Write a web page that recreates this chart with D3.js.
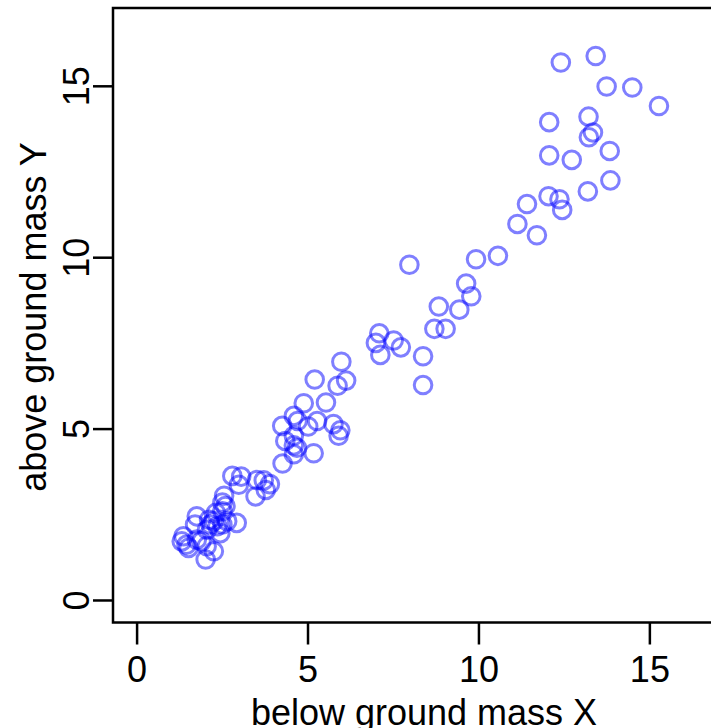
<!DOCTYPE html>
<html>
<head>
<meta charset="utf-8">
<script src="https://cdn.jsdelivr.net/npm/d3@7/dist/d3.min.js"></script>
<style>
  html, body { margin: 0; padding: 0; background: #fff; }
  svg { display: block; }
  text { font-family: "Liberation Sans", Arial, Helvetica, sans-serif; fill: #000; }
</style>
</head>
<body>
<svg id="chart" width="711" height="728"></svg>
<script>
// ---- data ----
const xValues = [
  12.41, 13.43, 13.75, 14.50, 15.28, 12.07, 13.22, 13.35, 13.23, 13.84,
  12.07, 12.73, 13.86, 13.20, 12.05, 12.37, 12.45, 11.42, 11.14, 11.71,
  7.98, 9.93, 10.57, 9.64, 9.79, 8.84, 9.44, 8.71, 9.04, 7.10,
  7.00, 7.52, 7.73, 7.13, 8.38, 8.38,
  5.99, 5.21, 5.88, 6.13, 4.89, 5.54, 4.60, 4.26, 4.71, 5.02,
  5.28, 5.76, 5.96, 5.91, 4.35, 4.60, 4.60, 4.69, 4.60, 5.18, 4.27,
  2.80, 3.06, 3.52, 3.72, 3.90, 3.48, 3.78, 2.99,
  2.56, 2.51, 2.60, 2.51, 2.32, 2.93, 2.12, 2.26, 2.51, 2.65,
  1.76, 1.71, 1.37, 1.32, 1.46, 1.76, 1.90, 2.05, 1.52, 2.02,
  2.26, 2.16, 2.36, 2.06, 2.45
];
const yValues = [
  15.68, 15.87, 14.98, 14.95, 14.41, 13.94, 14.10, 13.64, 13.50, 13.10,
  12.97, 12.84, 12.24, 11.92, 11.78, 11.69, 11.38, 11.55, 10.97, 10.64,
  9.78, 9.94, 10.04, 9.23, 8.86, 8.56, 8.47, 7.91, 7.91, 7.78,
  7.50, 7.57, 7.37, 7.15, 7.11, 6.27,
  6.95, 6.43, 6.25, 6.40, 5.74, 5.76, 5.37, 5.08, 5.22, 5.06,
  5.22, 5.13, 4.95, 4.79, 4.64, 4.79, 4.51, 4.44, 4.25, 4.28, 3.98,
  3.62, 3.60, 3.50, 3.49, 3.38, 3.02, 3.21, 3.36,
  3.04, 2.84, 2.74, 2.59, 2.54, 2.25, 2.34, 2.30, 2.20, 2.30,
  2.44, 2.20, 1.86, 1.71, 1.61, 1.76, 1.71, 1.57, 1.52, 1.18,
  1.42, 2.20, 2.15, 2.05, 1.95
];
const xTicks = [0, 5, 10, 15];
const yTicks = [0, 5, 10, 15];
const xTitle = "below ground mass X";
const yTitle = "above ground mass Y";

const points = xValues.map((v, i) => ({ x: v, y: yValues[i] }));

// ---- layout ----
const svg = d3.select("#chart");
const plotL = 113, plotR = 728, plotT = 8, plotB = 622.5;

const xScale = d3.scaleLinear().domain([-0.69, 17.3]).range([plotL, plotR]);
const yScale = d3.scaleLinear().domain([-0.657, 17.27]).range([plotB, plotT]);

svg.append("rect").attr("width", 711).attr("height", 728).attr("fill", "#fff");

// points
svg.append("g")
  .selectAll("circle")
  .data(points)
  .join("circle")
  .attr("cx", d => xScale(d.x))
  .attr("cy", d => yScale(d.y))
  .attr("r", 8.8)
  .attr("fill", "none")
  .attr("stroke", "rgba(0,0,255,0.5)")
  .attr("stroke-width", 3);

// box
svg.append("rect")
  .attr("x", plotL).attr("y", plotT)
  .attr("width", plotR - plotL).attr("height", plotB - plotT)
  .attr("fill", "none").attr("stroke", "#000").attr("stroke-width", 2.5);

const fontFam = "'Liberation Sans', Arial, Helvetica, sans-serif";

// x axis
const gx = svg.append("g")
  .attr("transform", `translate(0,${plotB})`)
  .call(d3.axisBottom(xScale).tickValues(xTicks).tickFormat(d3.format("d")).tickSize(22).tickPadding(11.5));
gx.select(".domain").remove();
gx.selectAll(".tick line").attr("stroke", "#000").attr("stroke-width", 2.5);
gx.selectAll(".tick text")
  .attr("font-size", 36)
  .attr("font-family", fontFam)
  .attr("fill", "#000");

// y axis
const gy = svg.append("g")
  .attr("transform", `translate(${plotL},0)`)
  .call(d3.axisLeft(yScale).tickValues(yTicks).tickFormat(d3.format("d")).tickSize(20));
gy.select(".domain").remove();
gy.selectAll(".tick line").attr("stroke", "#000").attr("stroke-width", 2.5);
gy.selectAll(".tick text")
  .attr("x", null).attr("dy", null)
  .attr("text-anchor", "middle")
  .attr("transform", "translate(-24,0) rotate(-90)")
  .attr("font-size", 36)
  .attr("font-family", fontFam)
  .attr("fill", "#000");

// titles
svg.append("text")
  .attr("x", 424).attr("y", 724.5)
  .attr("text-anchor", "middle")
  .attr("font-size", 36)
  .text(xTitle);

svg.append("text")
  .attr("transform", "translate(46,317) rotate(-90)")
  .attr("text-anchor", "middle")
  .attr("font-size", 36)
  .text(yTitle);
</script>
</body>
</html>
